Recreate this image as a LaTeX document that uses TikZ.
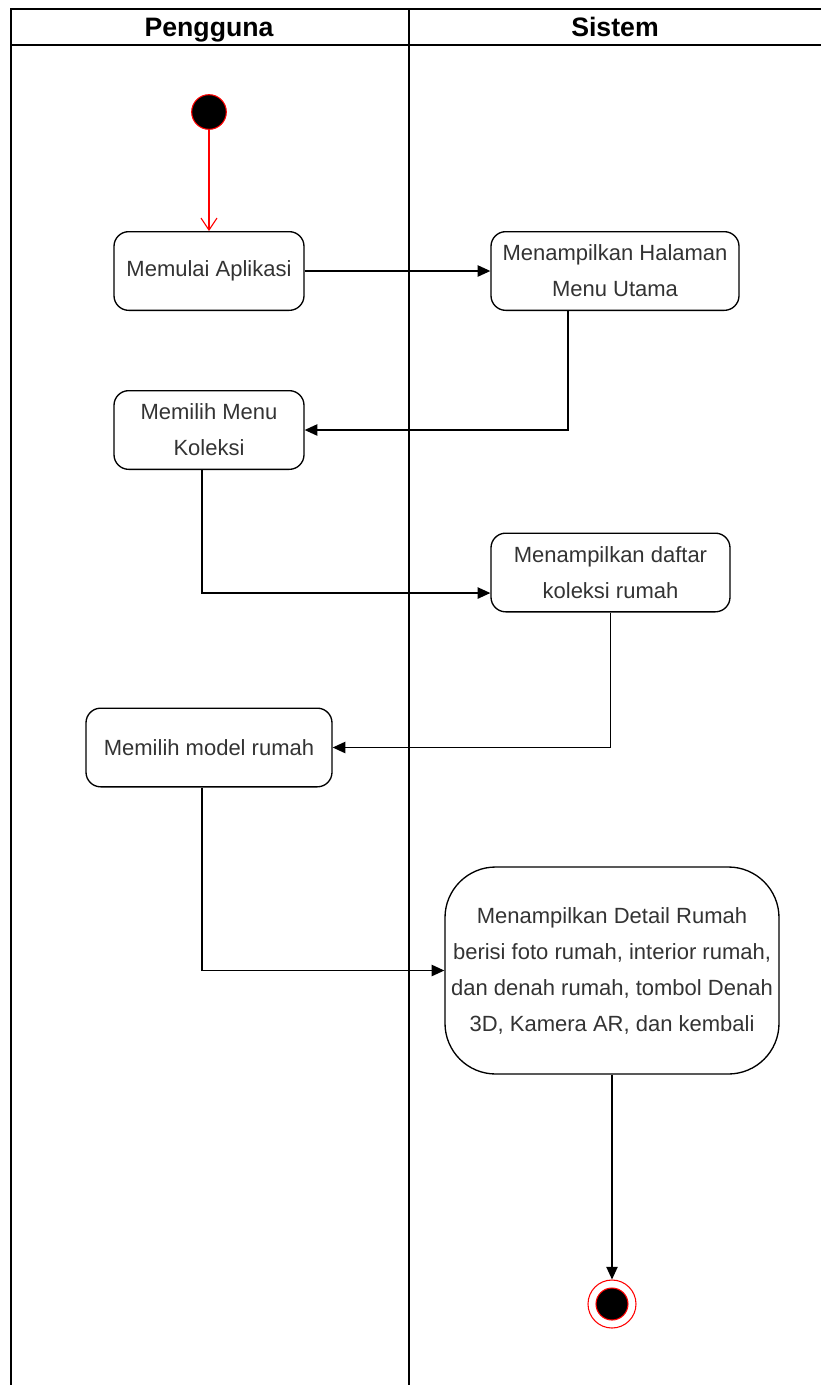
\documentclass[tikz,border=0pt]{standalone}
\usepackage{fontspec}
\setmainfont{Liberation Sans}
\usetikzlibrary{arrows.meta}
\definecolor{txtgray}{RGB}{51,51,51}
\definecolor{startred}{RGB}{255,0,0}
\begin{document}
\begin{tikzpicture}[x=0.75pt, y=-0.75pt,
   base_node_style/.style={draw=black, line width=1pt, text=txtgray, inner sep=2pt,
      font=\fontsize{16.5}{27}\selectfont, align=center},
   act_style/.style={base_node_style, rectangle, rounded corners=11pt, minimum height=59pt},
   big_act_style/.style={act_style, rounded corners=38pt},
   start_style/.style={circle, draw=startred, fill=black, line width=0.8pt, minimum size=26pt, inner sep=0pt},
   end_style/.style={circle, draw=startred, fill=white, line width=0.8pt, minimum size=36pt, inner sep=0pt},
   edge_style/.style={-{Triangle[length=9.5pt, width=8.5pt]}, draw=black, line width=1pt},
   start_edge_style/.style={-{Straight Barb[length=9pt, width=12pt, line width=0.8pt]}, draw=startred, line width=0.8pt},
   lane_style/.style={draw=black, line width=1pt},
   lane_title/.style={font=\bfseries\fontsize{20}{24}\selectfont, text=black, anchor=base}]

    \useasboundingbox (0,0) rectangle (821,1385);

    % swimlanes
    \draw[lane_style] (11,1385) -- (11,9) -- (821,9);
    \draw[lane_style] (11,45) -- (821,45);
    \draw[lane_style] (409,9) -- (409,1385);
    \node[lane_title] (pengguna) at (209,36) {Pengguna};
    \node[lane_title] (sistem) at (615,36) {Sistem};

    % states
    \node[start_style] (mulai) at (209,112) {};
    \node[end_style] (selesai) at (612,1304) {};
    \node[start_style, minimum size=24pt] (selesai_dalam) at (612,1304) {};

    % activities
    \node[act_style, minimum width=142.5pt] (aplikasi) at (209,271) {Memulai Aplikasi};
    \node[act_style, minimum width=186pt] (halaman) at (615,271) {Menampilkan Halaman\\Menu Utama};
    \node[act_style, minimum width=142.5pt] (koleksi) at (209,430) {Memilih Menu\\Koleksi};
    \node[act_style, minimum width=179.25pt] (daftar) at (610.5,572.5) {Menampilkan daftar\\koleksi rumah};
    \node[act_style, minimum width=184.5pt] (model) at (209,747.5) {Memilih model rumah};
    \node[big_act_style, minimum width=250.5pt, minimum height=155.25pt] (detail) at (612,970.5)
       {Menampilkan Detail Rumah\\berisi foto rumah, interior rumah,\\dan denah rumah, tombol Denah\\3D, Kamera AR, dan kembali};

    % flows
    \path[start_edge_style] (mulai) edge (aplikasi);
    \draw[edge_style] (aplikasi) -- (halaman);
    \draw[edge_style] ([xshift=-35.25pt]halaman.south) |- (koleksi.east);
    \draw[edge_style] ([xshift=-5.25pt]koleksi.south) |- ([yshift=-15.4pt]daftar.west);
    \draw[edge_style] (daftar.south) |- (model.east);
    \draw[edge_style] ([xshift=-5.25pt]model.south) |- (detail.west);
    \draw[edge_style] (detail.south) -- (selesai);
\end{tikzpicture}
\end{document}
